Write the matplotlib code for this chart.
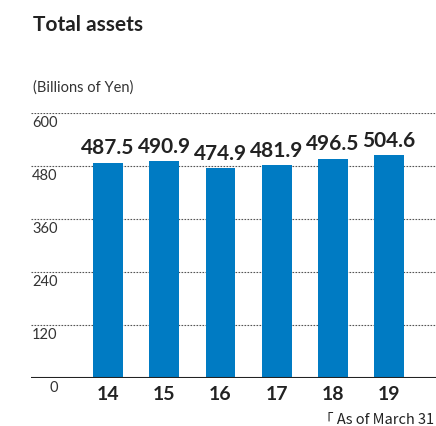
import numpy as np
import matplotlib.pyplot as plt

years = ['14', '15', '16', '17', '18', '19']
assets = [487.5, 490.9, 474.9, 481.9, 496.5, 504.6]
yticks = [0, 120, 240, 360, 480, 600]

plt.rcParams['font.family'] = ['Lato', 'DejaVu Sans']

fig = plt.figure(figsize=(4.36, 4.27), dpi=100)
ax = fig.add_axes([31 / 436, 48 / 427, 405 / 436, 265 / 427])

x = np.arange(len(years))
ax.bar(x, assets, width=0.53, color='#007BC3', zorder=2)
for xi, v in zip(x, assets):
  ax.text(xi, v + 12, f'{v:.1f}', ha='center', va='bottom', fontsize=15,
          fontweight='bold', color='#222222')

for t in yticks[1:]:
  ax.axhline(t, color='#555555', lw=0.8, ls=(0, (1.5, 1.2)), zorder=1)
ax.axhline(0, color='#222222', lw=1.5, zorder=3)

ax.set_xlim(-1.37, 5.835)
ax.set_ylim(0, 600)
ax.set_xticks(x)
ax.set_xticklabels(years, fontsize=14, fontweight='bold', color='#222222')
ax.tick_params(axis='x', length=0, pad=5)
ax.set_yticks([])
for s in ax.spines.values():
  s.set_visible(False)

for t in yticks:
  xpos = 0.003 if t > 0 else 0.045
  ax.text(xpos, t - 5, str(t), transform=ax.get_yaxis_transform(), ha='left', va='top',
          fontsize=10.5, color='#333333')

fig.text(33 / 436, 1 - 25 / 427, 'Total assets', fontsize=15, fontweight='bold',
         color='#222222', va='center')
fig.text(33 / 436, 1 - 88 / 427, '(Billions of Yen)', fontsize=10.5, color='#333333',
         va='center')
fig.text(434 / 436, 1 - 420 / 427, '「 As of March 31', fontsize=10.5, color='#222222',
         ha='right', va='center', family=['Noto Sans CJK JP', 'DejaVu Sans'])

fig.savefig('out.png', dpi=100)
